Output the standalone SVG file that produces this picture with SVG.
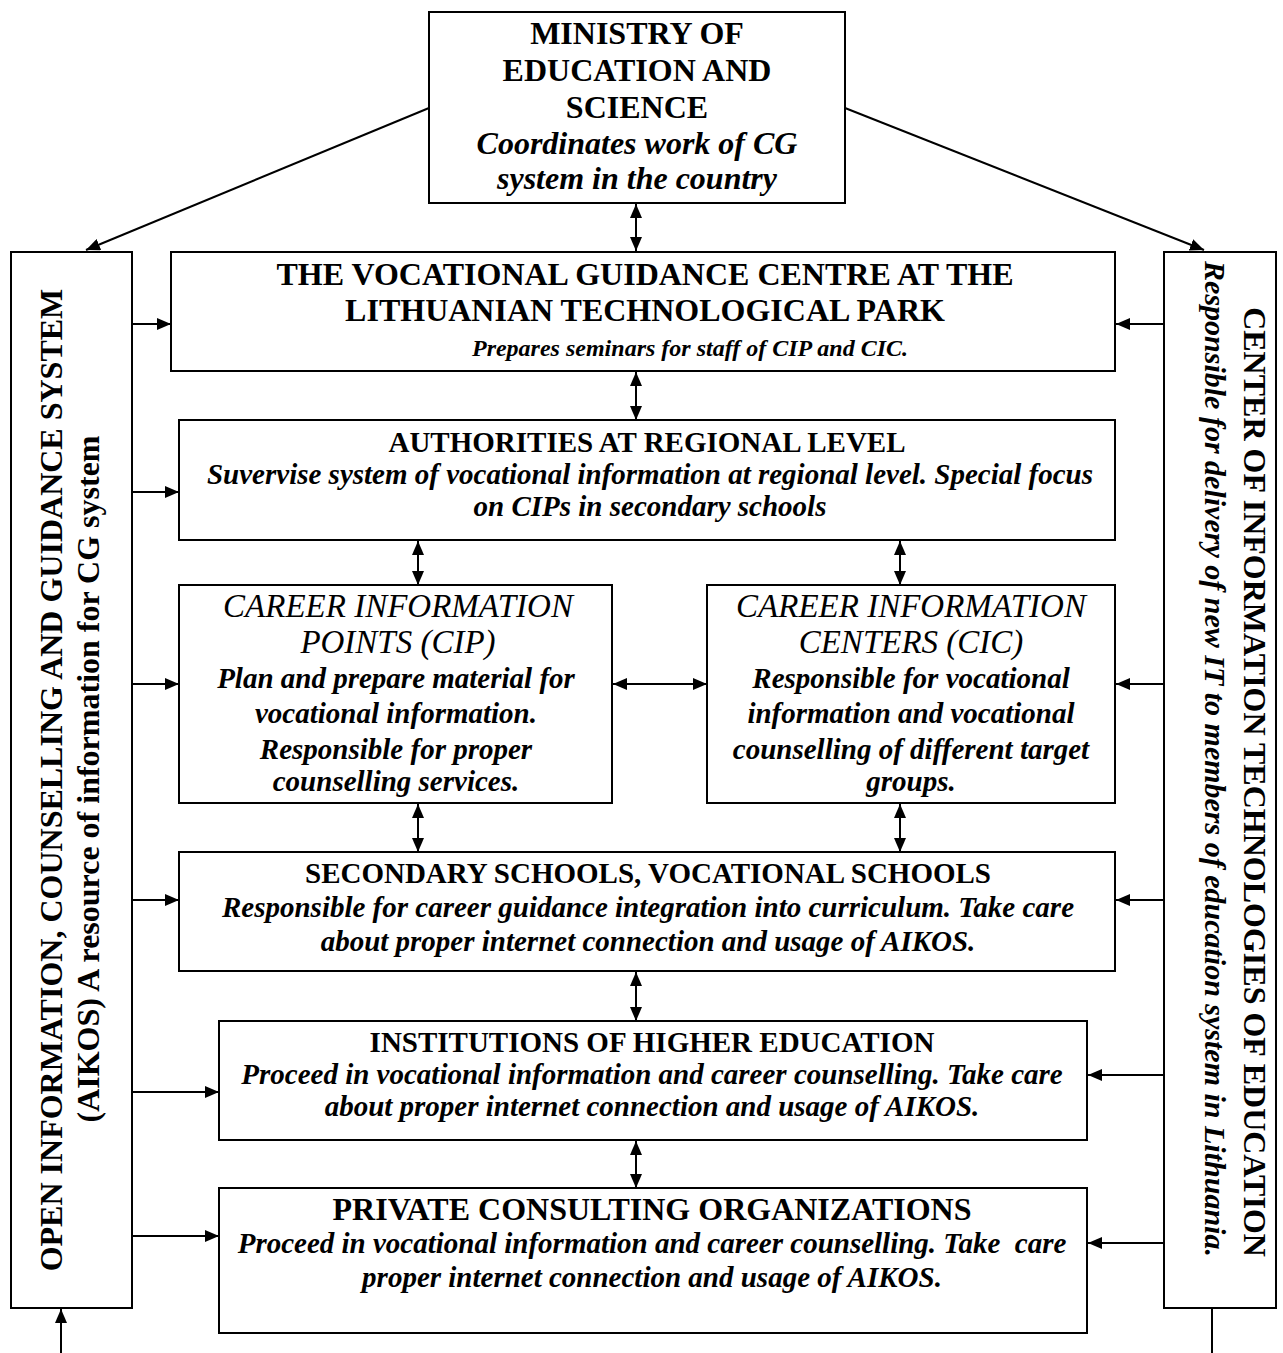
<svg xmlns="http://www.w3.org/2000/svg" width="1283" height="1353" viewBox="0 0 1283 1353">
<style>
.box{fill:#fff;stroke:#000;stroke-width:2}
text{font-family:"Liberation Serif","Times New Roman",serif;fill:#000;text-anchor:middle}
.t32{font-weight:bold;font-size:32px}
.t29{font-weight:bold;font-size:29px}
.i32{font-weight:bold;font-style:italic;font-size:32px}
.i30{font-weight:bold;font-style:italic;font-size:30px}
.i29{font-weight:bold;font-style:italic;font-size:29px}
.i24{font-weight:bold;font-style:italic;font-size:24px}
.it33{font-style:italic;font-size:33px}
.c line{stroke:#000;stroke-width:2}
</style>
<defs>
<marker id="ah" markerUnits="userSpaceOnUse" markerWidth="14" markerHeight="12" refX="14" refY="6" orient="auto-start-reverse">
<path d="M0,0 L14,6 L0,12 z" fill="#000"/>
</marker>
</defs>
<g class="c">
<line x1="429" y1="108" x2="86" y2="250" marker-end="url(#ah)"/>
<line x1="845" y1="108" x2="1204" y2="250" marker-end="url(#ah)"/>
<line x1="636" y1="204" x2="636" y2="251" marker-start="url(#ah)" marker-end="url(#ah)"/>
<line x1="636" y1="372" x2="636" y2="420" marker-start="url(#ah)" marker-end="url(#ah)"/>
<line x1="418" y1="541" x2="418" y2="585" marker-start="url(#ah)" marker-end="url(#ah)"/>
<line x1="900" y1="541" x2="900" y2="585" marker-start="url(#ah)" marker-end="url(#ah)"/>
<line x1="613" y1="684" x2="707" y2="684" marker-start="url(#ah)" marker-end="url(#ah)"/>
<line x1="418" y1="804" x2="418" y2="852" marker-start="url(#ah)" marker-end="url(#ah)"/>
<line x1="900" y1="804" x2="900" y2="852" marker-start="url(#ah)" marker-end="url(#ah)"/>
<line x1="636" y1="972" x2="636" y2="1021" marker-start="url(#ah)" marker-end="url(#ah)"/>
<line x1="636" y1="1141" x2="636" y2="1188" marker-start="url(#ah)" marker-end="url(#ah)"/>
<line x1="132" y1="324" x2="171" y2="324" marker-end="url(#ah)"/>
<line x1="132" y1="492" x2="179" y2="492" marker-end="url(#ah)"/>
<line x1="132" y1="684" x2="179" y2="684" marker-end="url(#ah)"/>
<line x1="132" y1="900" x2="179" y2="900" marker-end="url(#ah)"/>
<line x1="132" y1="1092" x2="219" y2="1092" marker-end="url(#ah)"/>
<line x1="132" y1="1236" x2="219" y2="1236" marker-end="url(#ah)"/>
<line x1="1164" y1="324" x2="1116" y2="324" marker-end="url(#ah)"/>
<line x1="1164" y1="684" x2="1116" y2="684" marker-end="url(#ah)"/>
<line x1="1164" y1="900" x2="1116" y2="900" marker-end="url(#ah)"/>
<line x1="1164" y1="1075" x2="1088" y2="1075" marker-end="url(#ah)"/>
<line x1="1164" y1="1243" x2="1088" y2="1243" marker-end="url(#ah)"/>
<line x1="61" y1="1353" x2="61" y2="1309" marker-end="url(#ah)"/>
<line x1="1212" y1="1308" x2="1212" y2="1353"/>
</g>
<g id="ministry">
<rect class="box" x="429" y="12" width="416" height="191"/>
<text class="t32" x="637" y="44">MINISTRY OF</text>
<text class="t32" x="637" y="81">EDUCATION AND</text>
<text class="t32" x="637" y="118">SCIENCE</text>
<text class="i32" x="637" y="154">Coordinates work of CG</text>
<text class="i32" x="637" y="189">system in the country</text>
</g>
<g id="aikos">
<rect class="box" x="11" y="252" width="121" height="1056"/>
<text class="t32" transform="translate(62,780) rotate(-90)">OPEN INFORMATION, COUNSELLING AND GUIDANCE SYSTEM</text>
<text class="t32" transform="translate(99,779) rotate(-90)">(AIKOS) A resource of information for CG system</text>
</g>
<g id="cite">
<rect class="box" x="1164" y="252" width="112" height="1056"/>
<text class="t32" transform="translate(1244,782) rotate(90)">CENTER OF INFORMATION TECHNOLOGIES OF EDUCATION</text>
<text class="i30" transform="translate(1205,759) rotate(90)">Responsible for delivery of new IT to members of education system in Lithuania.</text>
</g>
<g id="vgc">
<rect class="box" x="171" y="252" width="944" height="119"/>
<text class="t32" x="645" y="285">THE VOCATIONAL GUIDANCE CENTRE AT THE</text>
<text class="t32" x="645" y="321">LITHUANIAN TECHNOLOGICAL PARK</text>
<text class="i24" x="690" y="356">Prepares seminars for staff of CIP and CIC.</text>
</g>
<g id="authorities">
<rect class="box" x="179" y="420" width="936" height="120"/>
<text class="t29" x="647" y="452">AUTHORITIES AT REGIONAL LEVEL</text>
<text class="i29" x="650" y="484">Suvervise system of vocational information at regional level. Special focus</text>
<text class="i29" x="650" y="516">on CIPs in secondary schools</text>
</g>
<g id="cip">
<rect class="box" x="179" y="585" width="433" height="218"/>
<text class="it33" x="398" y="617">CAREER INFORMATION</text>
<text class="it33" x="398" y="653">POINTS (CIP)</text>
<text class="i29" x="396" y="688">Plan and prepare material for</text>
<text class="i29" x="396" y="723">vocational information.</text>
<text class="i29" x="396" y="759">Responsible for proper</text>
<text class="i29" x="396" y="791">counselling services.</text>
</g>
<g id="cic">
<rect class="box" x="707" y="585" width="408" height="218"/>
<text class="it33" x="911" y="617">CAREER INFORMATION</text>
<text class="it33" x="911" y="653">CENTERS (CIC)</text>
<text class="i29" x="911" y="688">Responsible for vocational</text>
<text class="i29" x="911" y="723">information and vocational</text>
<text class="i29" x="911" y="759">counselling of different target</text>
<text class="i29" x="911" y="791">groups.</text>
</g>
<g id="schools">
<rect class="box" x="179" y="852" width="936" height="119"/>
<text class="t29" x="648" y="883">SECONDARY SCHOOLS, VOCATIONAL SCHOOLS</text>
<text class="i29" x="648" y="917">Responsible for career guidance integration into curriculum. Take care</text>
<text class="i29" x="648" y="951">about proper internet connection and usage of AIKOS.</text>
</g>
<g id="higher">
<rect class="box" x="219" y="1021" width="868" height="119"/>
<text class="t29" x="652" y="1052">INSTITUTIONS OF HIGHER EDUCATION</text>
<text class="i29" x="652" y="1084">Proceed in vocational information and career counselling. Take care</text>
<text class="i29" x="652" y="1116">about proper internet connection and usage of AIKOS.</text>
</g>
<g id="private">
<rect class="box" x="219" y="1188" width="868" height="145"/>
<text class="t32" x="652" y="1220">PRIVATE CONSULTING ORGANIZATIONS</text>
<text class="i29" x="652" y="1253" style="white-space:pre">Proceed in vocational information and career counselling. Take  care</text>
<text class="i29" x="652" y="1287">proper internet connection and usage of AIKOS.</text>
</g>
</svg>
